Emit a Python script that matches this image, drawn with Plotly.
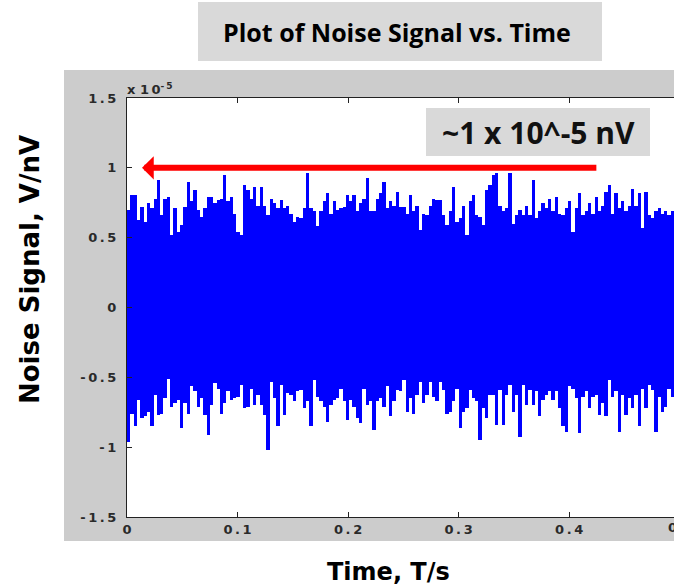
import numpy as np
import plotly.graph_objects as go

t_step = 0.003
upper = [0.70,0.805,0.805,0.63,0.72,0.61,0.745,0.71,0.78,0.91,0.66,0.78,0.79,0.52,0.71,0.54,0.59,0.72,0.90,0.76,
         0.84,0.70,0.65,0.71,0.79,0.79,0.745,0.77,0.78,0.95,0.76,0.79,0.67,0.54,0.52,0.88,0.84,0.78,0.865,0.73,
         0.865,0.73,0.66,0.78,0.745,0.71,0.77,0.71,0.73,0.67,0.61,0.65,0.64,0.71,0.96,0.71,0.69,0.58,0.69,0.76,
         0.82,0.67,0.76,0.70,0.71,0.72,0.805,0.76,0.805,0.69,0.745,0.78,0.925,0.69,0.69,0.78,0.82,0.90,0.71,0.76,
         0.73,
         0.83,0.72,0.72,0.67,0.805,0.69,0.73,0.555,0.67,0.66,0.73,0.78,0.77,0.77,0.66,0.59,0.69,0.865,0.61,0.64,
         0.73,0.52,0.76,0.805,0.66,0.65,0.59,0.84,0.88,0.95,0.96,0.73,0.69,0.71,0.96,0.60,0.66,0.70,0.66,0.73,
         0.66,0.91,0.64,0.69,0.745,0.71,0.78,0.69,0.79,0.67,0.66,0.71,0.76,0.54,0.71,0.82,0.66,0.69,0.745,0.67,
         0.79,0.69,0.73,0.83,0.88,0.67,0.82,0.71,0.76,0.69,0.73,0.85,0.73,0.82,0.57,0.83,0.66,0.64,0.69,0.71,
         0.67,0.69,0.66,0.69,0.71,0.58,0.71]
lower = [-0.96,-0.76,-0.85,-0.66,-0.79,-0.78,-0.745,-0.85,-0.625,-0.77,-0.76,-0.65,-0.51,-0.71,-0.685,-0.66,-0.865,-0.685,-0.76,-0.565,
         -0.60,-0.71,-0.65,-0.77,-0.91,-0.70,-0.54,-0.58,-0.76,-0.685,-0.60,-0.66,-0.65,-0.64,-0.555,-0.72,-0.71,-0.58,-0.70,-0.625,
         -0.70,-0.77,-1.02,-0.53,-0.65,-0.85,-0.555,-0.77,-0.61,-0.625,-0.67,-0.60,-0.59,-0.72,-0.67,-0.85,-0.52,-0.64,-0.67,-0.71,
         -0.82,-0.70,-0.66,-0.65,-0.58,-0.67,-0.805,-0.66,-0.71,-0.79,-0.83,-0.58,-0.70,-0.67,-0.875,-0.67,-0.65,-0.71,-0.565,-0.78,
         -0.67,-0.59,-0.60,-0.52,-0.745,
         -0.65,-0.76,-0.625,-0.53,-0.685,-0.625,-0.53,-0.64,-0.67,-0.53,-0.59,-0.76,-0.745,-0.67,-0.58,-0.865,-0.745,-0.72,-0.59,-0.65,
         -0.67,-0.95,-0.72,-0.79,-0.625,-0.625,-0.84,-0.59,-0.84,-0.625,-0.555,-0.745,-0.625,-0.925,-0.555,-0.70,-0.59,-0.70,-0.60,-0.78,
         -0.66,-0.625,-0.60,-0.66,-0.60,-0.72,-0.85,-0.89,-0.565,-0.58,-0.65,-0.90,-0.64,-0.60,-0.72,-0.64,-0.625,-0.77,-0.685,-0.78,
         -0.52,-0.64,-0.60,-0.89,-0.625,-0.77,-0.65,-0.72,-0.625,-0.85,-0.58,-0.72,-0.555,-0.59,-0.89,-0.64,-0.745,-0.71,-0.58,-0.64,
         -0.67,-0.96,-0.67]

y_ticks = [-1.5, -1, -0.5, 0, 0.5, 1, 1.5]
y_tick_labels = ["-1.5", "-1", "-0.5", "0", "0.5", "1", "1.5"]
x_ticks = [0, 0.1, 0.2, 0.3, 0.4]
x_tick_labels = ["0", "0.1", "0.2", "0.3", "0.4"]
arrow_level = 1.0

SP = "\u2009"
def spaced(s):
    return SP.join(list(s))

n = min(len(upper), len(lower))
up = np.array(upper[:n])
lo = np.array(lower[:n])
t = np.arange(n) * t_step + t_step / 2

W, H = 674, 588
L, R, T, B = 127, 0, 98, 71
pw, ph = W - L - R, H - T - B

def px(xp):
    return (xp - L) / pw

def py(yp):
    return (H - B - yp) / ph

fig = go.Figure()
fig.add_trace(go.Bar(x=t, y=up - lo, base=lo, width=t_step,
                     marker=dict(color="#0000ff", line=dict(width=0)),
                     hoverinfo="skip", showlegend=False))

shapes = [
    dict(type="rect", xref="paper", yref="paper", x0=px(64), x1=px(690), y0=py(541), y1=py(70),
         fillcolor="#cccccc", line=dict(width=0), layer="below"),
    dict(type="rect", xref="paper", yref="paper", x0=0, x1=1.05, y0=0, y1=1,
         fillcolor="#ffffff", line=dict(width=0), layer="below"),
    dict(type="rect", xref="paper", yref="paper", x0=px(198), x1=px(602), y0=py(61), y1=py(2),
         fillcolor="#d9d9d9", line=dict(width=0), layer="below"),
    dict(type="rect", xref="paper", yref="paper", x0=px(426), x1=px(650), y0=py(156), y1=py(108),
         fillcolor="#d9d9d9", line=dict(width=0), layer="above"),
]

tick_font = dict(family="DejaVu Sans", size=13, color="#2a2a2a", weight="bold")
bold_font = "DejaVu Sans"
annotations = [
    dict(text="<b>Plot of Noise Signal vs. Time</b>", xref="paper", yref="paper", x=px(397), y=py(32),
         showarrow=False, xanchor="center", yanchor="middle",
         font=dict(family="Open Sans", size=25, color="#000000")),
    dict(text="<b>~1 x 10^-5 nV</b>", xref="paper", yref="paper", x=px(538), y=py(132),
         showarrow=False, xanchor="center", yanchor="middle",
         font=dict(family="Open Sans", size=30, color="#111111")),
    dict(text="x " + spaced("10") + "<sup>" + spaced("-5") + "</sup>", xref="paper", yref="paper",
         x=px(125), y=py(89), showarrow=False, xanchor="left", yanchor="middle",
         font=tick_font),
    dict(text="<b>Noise Signal, V/nV</b>", xref="paper", yref="paper", x=px(30), y=py(270),
         showarrow=False, textangle=-90, xanchor="center", yanchor="middle",
         font=dict(family=bold_font, size=26, color="#000000")),
    dict(text="<b>Time, T/s</b>", xref="paper", yref="paper", x=px(388), y=py(572),
         showarrow=False, xanchor="center", yanchor="middle",
         font=dict(family=bold_font, size=24, color="#000000")),
    dict(text=spaced("0.5"), xref="paper", yref="paper", x=px(682), y=py(527),
         showarrow=False, xanchor="center", yanchor="middle",
         font=tick_font),
    dict(text="", x=0.0136, y=arrow_level, xref="x", yref="y",
         ax=0.426, ay=arrow_level, axref="x", ayref="y",
         showarrow=True, arrowhead=1, arrowsize=0.65, arrowwidth=6, arrowcolor="#ff0000"),
]

fig.update_layout(
    width=W, height=H,
    margin=dict(l=L, r=R, t=T, b=B, autoexpand=False),
    paper_bgcolor="#ffffff", plot_bgcolor="#ffffff",
    bargap=0, showlegend=False,
    shapes=shapes, annotations=annotations,
    xaxis=dict(range=[0, (W - L) / 1105.3], tickvals=x_ticks, ticktext=[spaced(s) for s in x_tick_labels],
               showgrid=False, zeroline=False, showline=True, linecolor="#222222", linewidth=1,
               mirror="ticks", ticks="inside", ticklen=5, tickcolor="#222222",
               tickfont=tick_font),
    yaxis=dict(range=[-1.5, 1.5], tickvals=y_ticks, ticktext=[spaced(s) for s in y_tick_labels],
               showgrid=False, zeroline=False, showline=True, linecolor="#222222", linewidth=1,
               ticks="inside", ticklen=5, tickcolor="#222222", ticklabelstandoff=7,
               tickfont=tick_font),
)

fig.write_html("out.html")
